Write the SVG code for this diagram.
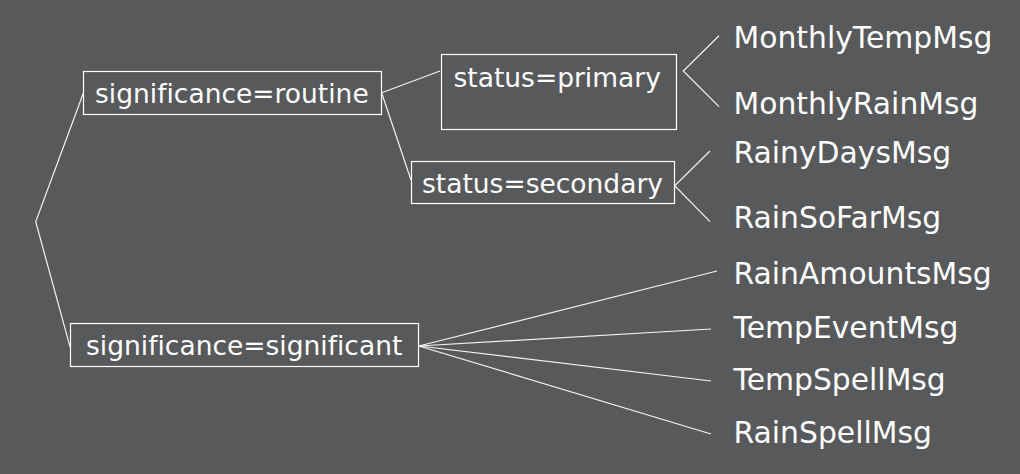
<svg xmlns="http://www.w3.org/2000/svg" width="1020" height="474" viewBox="0 0 1020 474">
<style>
.bg{fill:#58595b}
.box{fill:none;stroke:#ffffff;stroke-width:1.2}
.edge{stroke:#f2f2f2;stroke-width:1.2;fill:none}
.bt{font-family:"DejaVu Sans",sans-serif;font-size:26.5px;fill:#ffffff;font-variant-ligatures:none}
.lt{font-family:"DejaVu Sans",sans-serif;font-size:29.8px;fill:#ffffff;font-variant-ligatures:none}
</style>
<rect class="bg" x="0" y="0" width="1020" height="474"/>
<g id="connectors">
<polyline class="edge" points="83.3,93.3 35.7,221.7 70,346.7"/>
<line class="edge" x1="381.7" y1="92.7" x2="440" y2="71"/>
<line class="edge" x1="381.7" y1="93" x2="411" y2="180"/>
<polyline class="edge" points="719,35.7 683.3,71 719,106.7"/>
<polyline class="edge" points="710,151 674.7,185.7 710,221.7"/>
<line class="edge" x1="418.7" y1="346" x2="717" y2="271"/>
<line class="edge" x1="418.7" y1="346" x2="711" y2="329"/>
<line class="edge" x1="418.7" y1="346" x2="711" y2="381"/>
<line class="edge" x1="418.7" y1="346" x2="711" y2="434"/>
</g>
<g id="node-routine">
<rect class="box" x="83.5" y="71.5" width="298" height="43"/>
<text class="bt" x="95" y="102.5">significance=routine</text>
</g>
<g id="node-significant">
<rect class="box" x="70.5" y="323.5" width="348" height="43"/>
<text class="bt" x="86" y="355">significance=significant</text>
</g>
<g id="node-primary">
<rect class="box" x="441.5" y="54.5" width="235" height="75"/>
<text class="bt" x="453.5" y="86.5">status=primary</text>
</g>
<g id="node-secondary">
<rect class="box" x="411.5" y="161.5" width="263" height="42"/>
<text class="bt" x="422" y="192.5">status=secondary</text>
</g>
<g id="leaf-MonthlyTempMsg"><text class="lt" x="733.5" y="48.3">MonthlyTempMsg</text></g>
<g id="leaf-MonthlyRainMsg"><text class="lt" x="733.5" y="114.3">MonthlyRainMsg</text></g>
<g id="leaf-RainyDaysMsg"><text class="lt" x="733.5" y="163.3">RainyDaysMsg</text></g>
<g id="leaf-RainSoFarMsg"><text class="lt" x="733.5" y="228.3">RainSoFarMsg</text></g>
<g id="leaf-RainAmountsMsg"><text class="lt" x="733.5" y="284.3">RainAmountsMsg</text></g>
<g id="leaf-TempEventMsg"><text class="lt" x="733.5" y="338.3">TempEventMsg</text></g>
<g id="leaf-TempSpellMsg"><text class="lt" x="733.5" y="390">TempSpellMsg</text></g>
<g id="leaf-RainSpellMsg"><text class="lt" x="733.5" y="443.3">RainSpellMsg</text></g>
</svg>
